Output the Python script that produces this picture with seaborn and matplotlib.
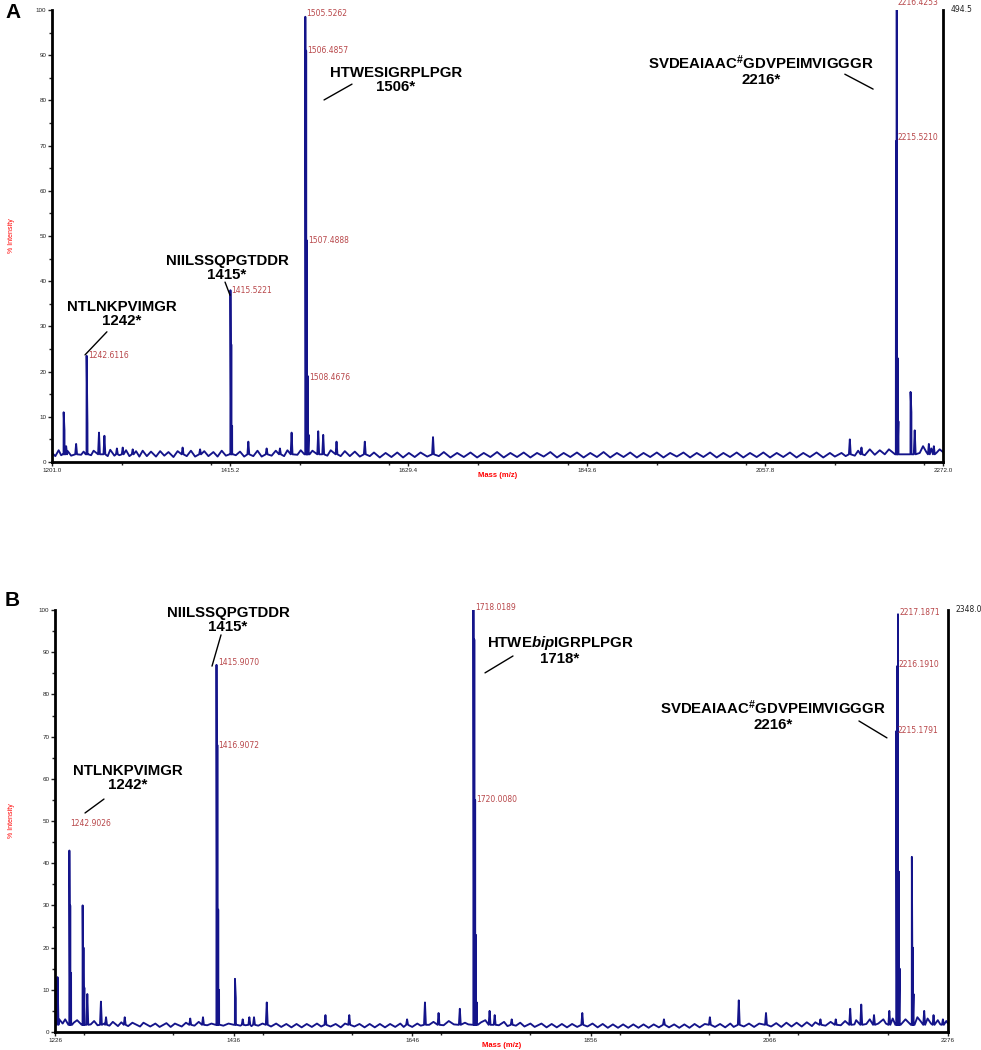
import matplotlib
matplotlib.use("Agg")
import numpy as np
import pandas as pd
import matplotlib.pyplot as plt
from matplotlib.ticker import MultipleLocator, FixedLocator, FixedFormatter
import seaborn as sns

sns.set_style("ticks")
plt.rcParams['font.family'] = ['Liberation Sans', 'DejaVu Sans']
plt.rcParams['mathtext.fontset'] = 'custom'
plt.rcParams['mathtext.rm'] = 'Liberation Sans:bold'
plt.rcParams['mathtext.bf'] = 'Liberation Sans:bold'
plt.rcParams['mathtext.it'] = 'Liberation Sans:italic:bold'

# ---------------------------------------------------------------------------
# Panel A data
# ---------------------------------------------------------------------------
a_peak_mz = [1215.0, 1216.0, 1218.0, 1230.0, 1242.6, 1243.6, 1257.5, 1264.0, 1279.0, 1286.0,
             1298.0, 1358.0, 1379.0, 1415.5, 1416.5, 1417.5, 1437.0, 1459.0, 1475.0, 1489.0,
             1505.5, 1506.5, 1507.5, 1508.5, 1509.5, 1521.0, 1527.0, 1543.0, 1577.0, 1659.0,
             2160.0, 2174.0, 2215.5, 2216.4, 2217.4, 2218.4, 2233.0, 2234.0, 2238.0, 2255.0, 2261.0]
a_peak_int = [11.0, 7.0, 3.5, 4.0, 23.5, 8.5, 6.5, 5.8, 3.0, 3.2,
              2.8, 3.2, 2.8, 38.0, 26.0, 8.0, 4.5, 3.0, 3.0, 6.5,
              98.5, 91.0, 49.0, 19.0, 6.0, 6.8, 6.0, 4.5, 4.5, 5.5,
              5.0, 3.2, 71.0, 100.0, 23.0, 9.0, 15.5, 11.0, 7.0, 4.0, 3.5]
a_noise_mz = [1201, 1205, 1209, 1212, 1220, 1224, 1236, 1239, 1248, 1251, 1268, 1271, 1276, 1282,
              1290, 1294, 1302, 1306, 1310, 1315, 1320, 1326, 1331, 1336, 1341, 1347, 1352, 1363,
              1368, 1373, 1384, 1389, 1395, 1400, 1405, 1410, 1422, 1427, 1432, 1443, 1448, 1453,
              1465, 1470, 1480, 1484, 1496, 1500, 1514, 1532, 1536, 1548, 1553, 1559, 1565, 1571,
              1583, 1588, 1595, 1602, 1609, 1616, 1623, 1630, 1637, 1644, 1652, 1666, 1672, 1680,
              1688, 1696, 1704, 1712, 1720, 1728, 1736, 1744, 1752, 1760, 1768, 1776, 1784, 1792,
              1800, 1808, 1816, 1824, 1832, 1840, 1848, 1856, 1864, 1872, 1880, 1888, 1896, 1904,
              1912, 1920, 1928, 1936, 1944, 1952, 1960, 1968, 1976, 1984, 1992, 2000, 2008, 2016,
              2024, 2032, 2040, 2048, 2056, 2064, 2072, 2080, 2088, 2096, 2104, 2112, 2120, 2128,
              2136, 2142, 2150, 2155, 2166, 2170, 2178, 2184, 2190, 2196, 2202, 2207, 2211, 2244,
              2248, 2252, 2258, 2264, 2268, 2272]
a_noise_int = [2.0, 1.3, 2.6, 1.5, 2.4, 1.4, 1.6, 2.3, 1.5, 2.5, 1.3, 2.7, 1.4, 1.5,
               2.6, 1.3, 2.4, 1.2, 2.5, 1.3, 2.3, 1.2, 2.4, 1.4, 2.2, 1.1, 2.4, 1.3,
               2.5, 1.2, 2.4, 1.3, 2.2, 1.2, 2.5, 1.4, 1.5, 2.3, 1.2, 1.3, 2.5, 1.2,
               1.4, 2.5, 1.3, 2.6, 1.6, 2.6, 2.5, 1.4, 2.6, 1.3, 2.4, 1.3, 2.3, 1.2,
               1.3, 2.1, 1.0, 2.0, 1.1, 2.1, 1.0, 2.0, 1.1, 2.1, 1.2, 1.3, 2.2, 1.0,
               2.0, 1.1, 2.1, 1.0, 2.0, 1.1, 2.2, 1.0, 2.0, 1.1, 2.1, 1.0, 2.0, 1.2,
               2.2, 1.0, 2.0, 1.1, 2.1, 1.0, 2.0, 1.1, 2.2, 1.0, 2.0, 1.1, 2.1, 1.0,
               2.0, 1.1, 2.1, 1.0, 2.0, 1.2, 2.1, 1.0, 2.0, 1.1, 2.1, 1.0, 2.0, 1.1,
               2.1, 1.0, 2.0, 1.1, 2.1, 1.0, 2.0, 1.1, 2.1, 1.0, 2.0, 1.1, 2.1, 1.0,
               2.0, 1.2, 2.0, 1.3, 1.4, 2.5, 1.5, 2.8, 1.6, 2.6, 1.7, 2.8, 2.2, 2.0,
               3.5, 2.2, 3.0, 2.0, 2.8, 2.2]
a_xticks = [1201.0, 1415.2, 1629.4, 1843.6, 2057.8, 2272.0]
a_xticklabels = ["1201.0", "1415.2", "1629.4", "1843.6", "2057.8", "2272.0"]
a_tag_text = ["1242.6116", "1415.5221", "1505.5262", "1506.4857", "1507.4888", "1508.4676",
              "2216.4253", "2215.5210"]
a_tag_mz = [1242.6, 1415.5, 1505.5, 1506.5, 1507.5, 1508.5, 2216.4, 2215.5]
a_tag_int = [23.5, 38.0, 99.3, 91.0, 49.0, 18.8, 101.6, 71.8]
a_max_count = "494.5"

# ---------------------------------------------------------------------------
# Panel B data
# ---------------------------------------------------------------------------
b_peak_mz = [1227.0, 1229.0, 1242.9, 1243.9, 1244.9, 1258.5, 1259.5, 1260.5, 1264.0, 1280.0,
             1286.0, 1308.0, 1385.0, 1400.0, 1415.9, 1416.9, 1417.9, 1418.9, 1437.6, 1438.6,
             1446.7, 1454.5, 1460.0, 1475.0, 1544.0, 1572.0, 1640.0, 1661.0, 1677.0, 1702.0,
             1718.0, 1719.0, 1720.0, 1721.0, 1722.0, 1737.0, 1743.0, 1763.0, 1846.0, 1942.0,
             1996.0, 2030.0, 2062.0, 2126.0, 2144.0, 2161.0, 2174.0, 2189.0, 2207.0, 2215.2,
             2216.2, 2217.2, 2218.2, 2219.2, 2233.5, 2234.5, 2235.5, 2248.0, 2259.0, 2270.0]
b_peak_int = [12.0, 13.0, 43.0, 30.0, 14.0, 30.0, 20.0, 10.5, 9.0, 7.2,
              3.5, 3.5, 3.2, 3.5, 87.0, 68.0, 29.0, 10.0, 12.6, 8.0,
              3.0, 3.5, 3.5, 7.0, 4.0, 4.0, 3.0, 7.0, 4.5, 5.5,
              100.0, 93.0, 55.0, 23.0, 7.0, 5.0, 4.0, 3.0, 4.5, 3.0,
              3.5, 7.5, 4.5, 3.0, 3.0, 5.5, 6.5, 4.0, 5.0, 71.3,
              86.7, 99.0, 38.0, 15.0, 41.5, 20.0, 9.0, 5.0, 4.0, 3.0]
b_noise_mz = [1226, 1231, 1235, 1238, 1248, 1252, 1268, 1272, 1276, 1284, 1290, 1294, 1300, 1304,
              1312, 1317, 1326, 1330, 1338, 1344, 1349, 1357, 1362, 1367, 1375, 1380, 1390, 1395,
              1405, 1410, 1424, 1430, 1444, 1450, 1457, 1465, 1470, 1480, 1486, 1492, 1498, 1504,
              1510, 1516, 1522, 1528, 1534, 1539, 1550, 1556, 1562, 1567, 1578, 1584, 1590, 1596,
              1602, 1608, 1614, 1620, 1626, 1632, 1636, 1646, 1652, 1656, 1666, 1671, 1683, 1689,
              1695, 1708, 1712, 1727, 1732, 1748, 1754, 1758, 1768, 1773, 1778, 1785, 1790, 1798,
              1804, 1810, 1816, 1822, 1828, 1834, 1840, 1852, 1858, 1864, 1870, 1876, 1882, 1888,
              1894, 1900, 1906, 1912, 1918, 1924, 1930, 1936, 1948, 1954, 1960, 1966, 1972, 1978,
              1984, 1990, 2002, 2008, 2014, 2020, 2024, 2036, 2042, 2048, 2054, 2068, 2074, 2080,
              2086, 2092, 2098, 2104, 2110, 2116, 2120, 2132, 2138, 2150, 2155, 2166, 2168, 2180,
              2184, 2194, 2200, 2203, 2211, 2226, 2240, 2244, 2252, 2256, 2264, 2267, 2274, 2276]
b_noise_int = [2.5, 3.0, 2.0, 3.0, 2.2, 2.8, 1.8, 2.6, 1.6, 2.0, 1.5, 2.4, 1.4, 2.3,
               1.4, 2.2, 1.3, 2.2, 1.3, 2.0, 1.2, 2.1, 1.2, 2.0, 1.3, 2.2, 1.5, 2.4,
               1.6, 2.0, 1.5, 2.0, 1.5, 1.6, 1.4, 1.5, 2.0, 1.3, 2.0, 1.2, 1.9, 1.1,
               1.9, 1.1, 1.9, 1.2, 2.0, 1.3, 1.3, 1.9, 1.1, 2.0, 1.3, 1.9, 1.1, 1.9,
               1.1, 1.9, 1.1, 1.9, 1.2, 2.0, 1.2, 1.2, 2.0, 1.5, 1.7, 2.4, 1.6, 2.6,
               1.8, 2.2, 1.8, 2.3, 2.8, 1.6, 2.4, 1.4, 1.5, 2.2, 1.3, 2.0, 1.2, 2.0,
               1.1, 1.9, 1.1, 1.9, 1.1, 1.9, 1.2, 1.3, 2.0, 1.1, 1.9, 1.0, 1.8, 1.0,
               1.8, 1.0, 1.8, 1.0, 1.8, 1.0, 1.8, 1.1, 1.1, 1.8, 1.0, 1.8, 1.0, 1.9,
               1.1, 1.9, 1.2, 1.9, 1.1, 2.0, 1.2, 1.3, 2.0, 1.2, 2.0, 1.3, 2.1, 1.2,
               2.2, 1.3, 2.2, 1.3, 2.3, 1.4, 2.3, 1.5, 2.4, 1.6, 2.6, 1.8, 2.8, 1.9,
               3.0, 2.0, 3.0, 2.0, 3.2, 3.0, 3.5, 2.5, 3.2, 2.0, 2.8, 1.8, 2.6, 2.0]
b_xticks = [1226, 1436, 1646, 1856, 2066, 2276]
b_xticklabels = ["1226", "1436", "1646", "1856", "2066", "2276"]
b_tag_text = ["1242.9026", "1415.9070", "1416.9072", "1718.0189", "1720.0080",
              "2217.1871", "2216.1910", "2215.1791"]
b_tag_mz = [1242.9, 1415.9, 1416.9, 1718.0, 1720.0, 2217.2, 2216.2, 2215.2]
b_tag_int = [49.5, 87.5, 68.0, 100.5, 55.0, 99.5, 87.0, 71.5]
b_max_count = "2348.0"

# peptide annotations
a_peptides = ["NTLNKPVIMGR\n1242*", "NIILSSQPGTDDR\n1415*", "HTWESIGRPLPGR\n1506*",
              "SVDEAIAAC$^{\\mathrm{\\#}}$GDVPEIMVIGGGR\n2216*"]
b_peptides = ["NIILSSQPGTDDR\n1415*", "NTLNKPVIMGR\n1242*",
              "HTWE$\\mathit{bip}$IGRPLPGR\n1718*",
              "SVDEAIAAC$^{\\mathrm{\\#}}$GDVPEIMVIGGGR\n2216*"]

LINE = '#14148a'
TAG = '#b8474a'
HALF = 1.1  # half width of a peak in Da


def spectrum(peak_mz, peak_int, noise_mz, noise_int, base):
    mz, inten = [], []
    for m, h in zip(peak_mz, peak_int):
        mz += [m - HALF, m, m + HALF]
        inten += [base, h, base]
    mz += list(noise_mz)
    inten += list(noise_int)
    return pd.DataFrame({"mz": mz, "intensity": inten})


fig = plt.figure(figsize=(9.81, 10.5), dpi=100)
ax_a = fig.add_axes([52 / 981, 1 - 462 / 1050, 891 / 981, 452 / 1050])
ax_b = fig.add_axes([55 / 981, 1 - 1032 / 1050, 893 / 981, 422 / 1050])

panels = [
    (ax_a, spectrum(a_peak_mz, a_peak_int, a_noise_mz, a_noise_int, 1.7),
     a_xticks, a_xticklabels, a_tag_text, a_tag_mz, a_tag_int, a_max_count, 107.1),
    (ax_b, spectrum(b_peak_mz, b_peak_int, b_noise_mz, b_noise_int, 1.7),
     b_xticks, b_xticklabels, b_tag_text, b_tag_mz, b_tag_int, b_max_count, 105),
]

for ax, df, xt, xtl, tags, tmz, tint, maxc, minor in panels:
    sns.lineplot(data=df, x="mz", y="intensity", sort=True, estimator=None,
                 color=LINE, lw=1.35, ax=ax)
    ax.set_xlim(xt[0], xt[-1])
    ax.set_ylim(0, 100)
    ax.xaxis.set_major_locator(FixedLocator(xt))
    ax.xaxis.set_major_formatter(FixedFormatter(xtl))
    ax.xaxis.set_minor_locator(MultipleLocator(minor))
    ax.yaxis.set_major_locator(MultipleLocator(10))
    ax.yaxis.set_minor_locator(MultipleLocator(5))
    ax.tick_params(which='major', length=3, width=1, labelsize=4.5, pad=1,
                   colors='#222222')
    ax.tick_params(which='minor', length=2, width=1)
    for s in ['left', 'bottom', 'right']:
        ax.spines[s].set_linewidth(2)
        ax.spines[s].set_color('black')
    ax.spines['top'].set_visible(False)
    ax.set_xlabel("Mass (m/z)", color='red', fontsize=5.5, fontweight='bold')
    ax.set_ylabel("% Intensity", color='red', fontsize=5)
    for t, m, y in zip(tags, tmz, tint):
        ax.text(m + 1.5, y, t, color=TAG, fontsize=5.5, va='center', ha='left',
                family='DejaVu Sans', clip_on=False)
    ax.text(1.008, 1.0, maxc, transform=ax.transAxes, fontsize=5.5, va='center',
            ha='left', family='DejaVu Sans', color='#222222')

ax_a.xaxis.set_label_coords(0.5, -0.022)
ax_a.yaxis.set_label_coords(-0.041, 0.5)
ax_b.xaxis.set_label_coords(0.5, -0.024)
ax_b.yaxis.set_label_coords(-0.045, 0.5)

pep_kw = dict(fontsize=10.8, fontweight='bold', ha='center', va='center',
              linespacing=1.05, color='black', clip_on=False)
line_kw = dict(color='black', lw=1, clip_on=False)

# panel A labels
a_text_xy = [(1285, 32.7), (1411.3, 42.9), (1614.5, 84.5), (2053, 86.7)]
a_lines = [((1267, 1240.7), (28.8, 23.7)), ((1409, 1415), (39.8, 36.9)),
           ((1561.6, 1528), (83.6, 80.1)), ((2154, 2188), (85.8, 82.5))]
for txt, (x, y), (lx, ly) in zip(a_peptides, a_text_xy, a_lines):
    ax_a.text(x, y, txt, **pep_kw)
    ax_a.plot(lx, ly, **line_kw)

# panel B labels
b_text_xy = [(1429.4, 97.6), (1311.8, 60.2), (1819.8, 90.5), (2070.2, 75.1)]
b_lines = [((1421.2, 1410.6), (94.1, 86.7)), ((1283.6, 1261.3), (55.2, 51.9)),
           ((1764.5, 1731.6), (89.1, 85.1)), ((2171.3, 2204.2), (73.7, 69.7))]
for txt, (x, y), (lx, ly) in zip(b_peptides, b_text_xy, b_lines):
    ax_b.text(x, y, txt, **pep_kw)
    ax_b.plot(lx, ly, **line_kw)

fig.text(5 / 981, 1 - 13 / 1050, "A", fontsize=15, fontweight='bold', va='center',
         color='black')
fig.text(5 / 981, 1 - 601 / 1050, "B", fontsize=15, fontweight='bold', va='center',
         color='black')

fig.savefig("out.png", dpi=100, facecolor='white')
